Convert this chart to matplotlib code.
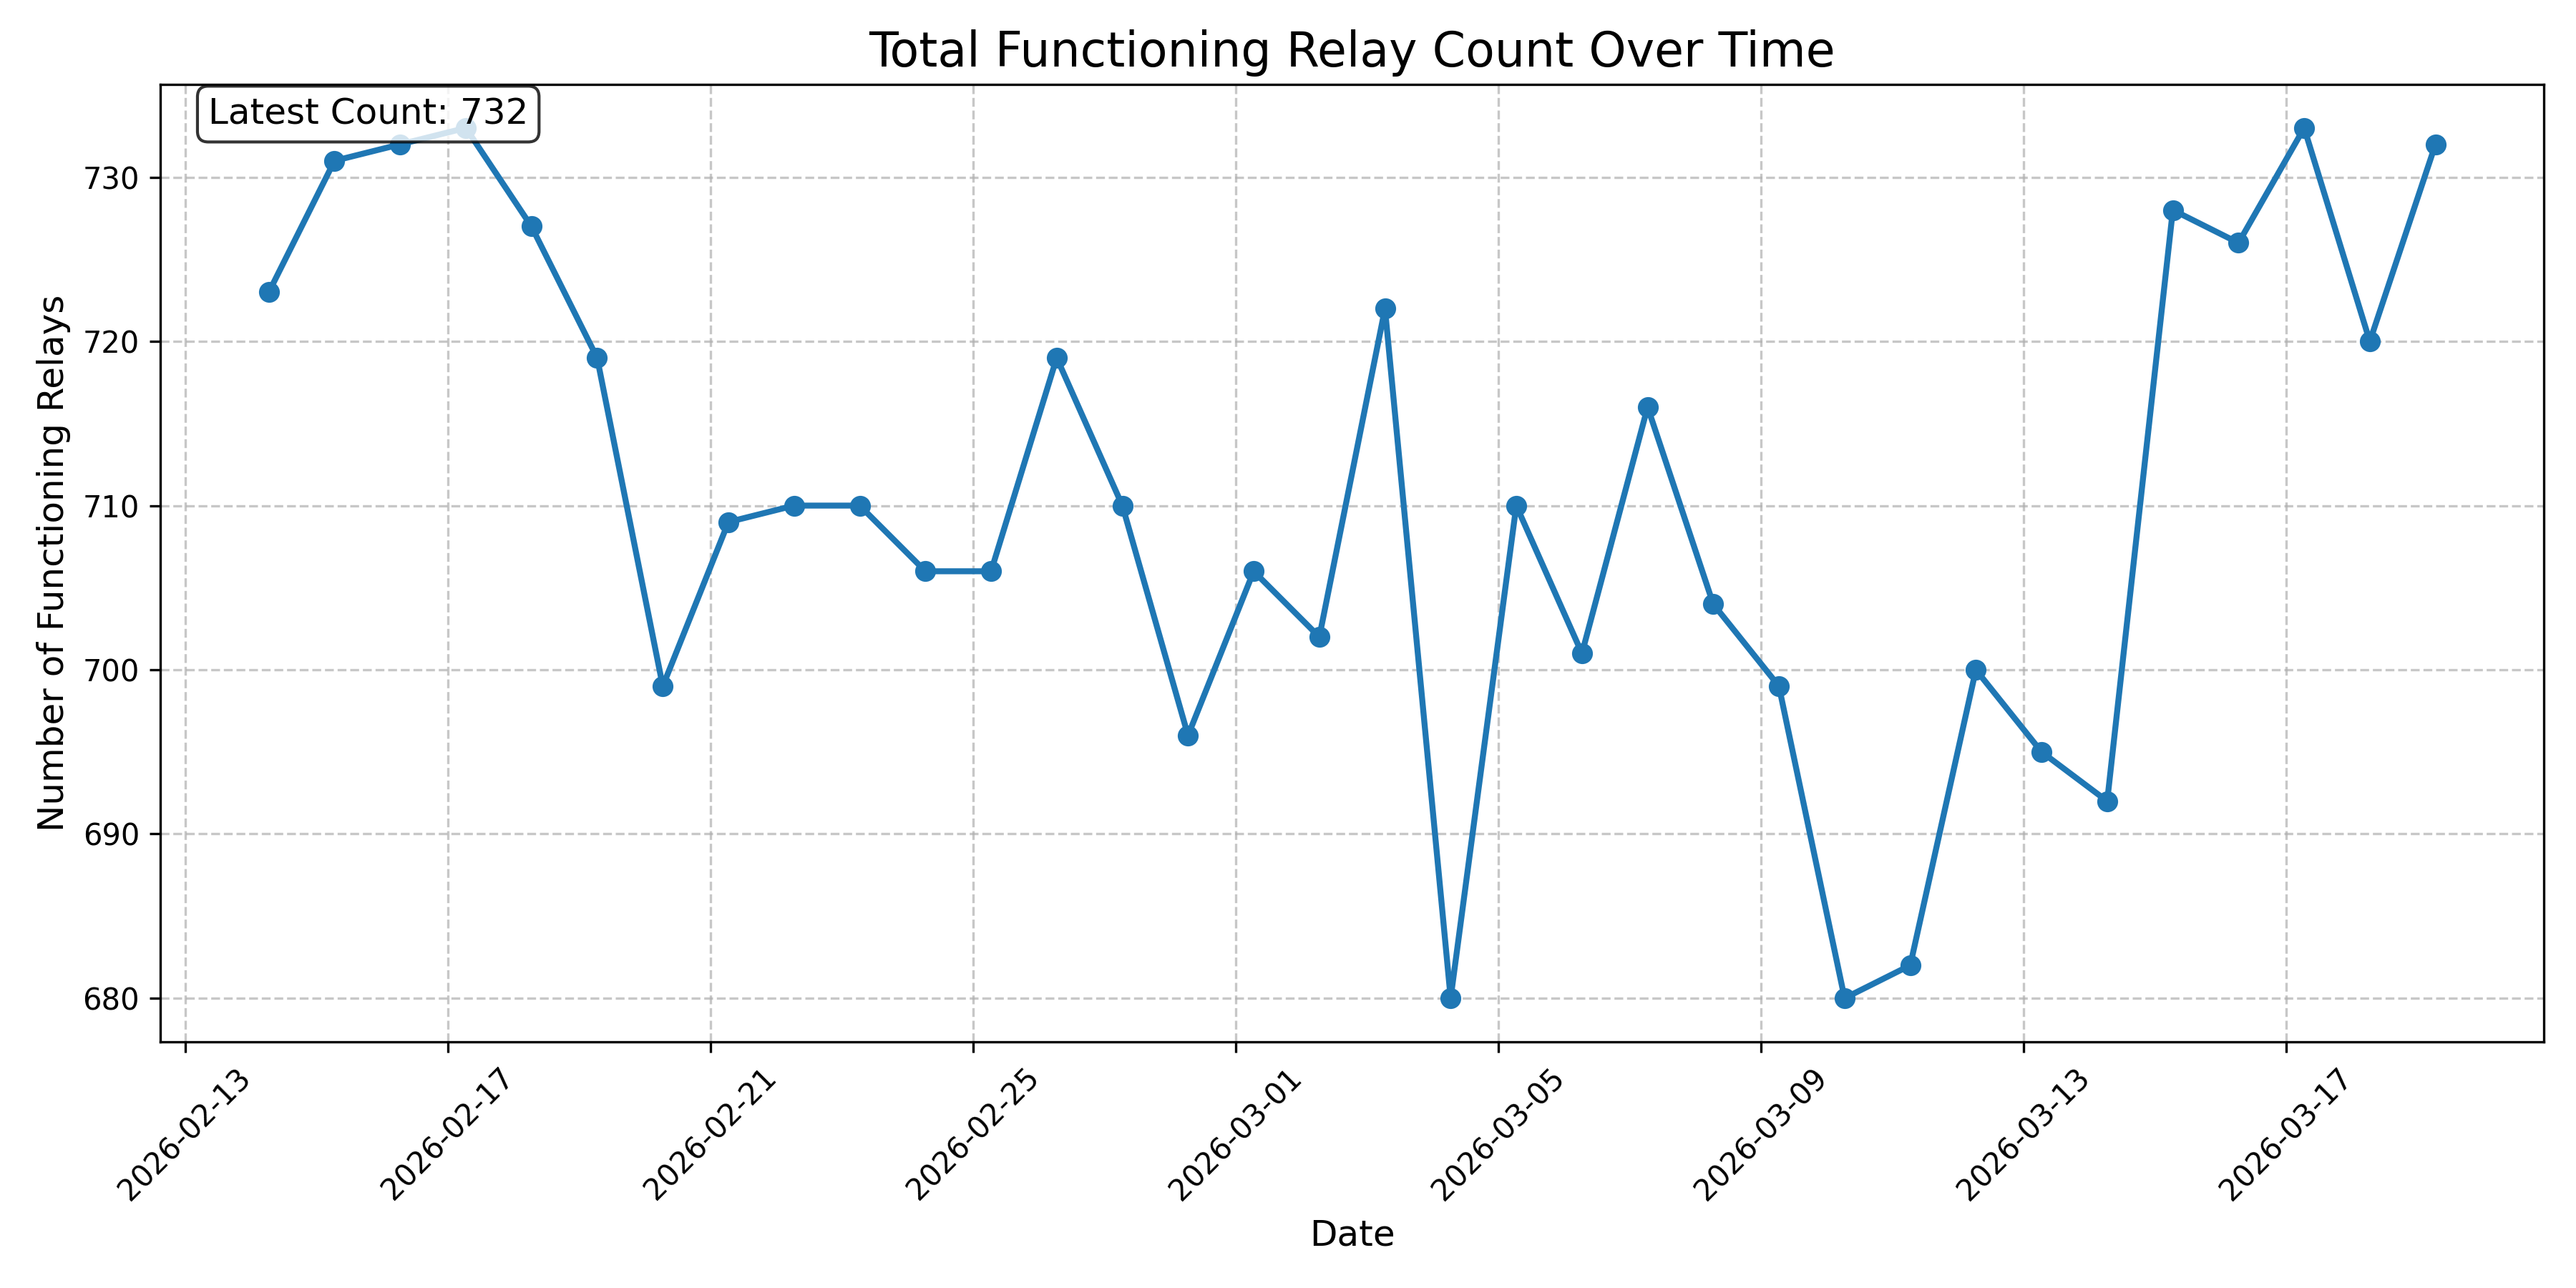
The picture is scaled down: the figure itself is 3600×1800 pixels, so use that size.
import matplotlib
matplotlib.use("Agg")
import matplotlib.pyplot as plt
import matplotlib.dates as mdates
import pandas as pd

# daily snapshots (timestamps)
dates = [
    "2026-02-14 06:30", "2026-02-15 06:30", "2026-02-16 06:30", "2026-02-17 06:30",
    "2026-02-18 06:30", "2026-02-19 06:30", "2026-02-20 06:30", "2026-02-21 06:30",
    "2026-02-22 06:30", "2026-02-23 06:30", "2026-02-24 06:30", "2026-02-25 06:30",
    "2026-02-26 06:30", "2026-02-27 06:30", "2026-02-28 06:30", "2026-03-01 06:30",
    "2026-03-02 06:30", "2026-03-03 06:30", "2026-03-04 06:30", "2026-03-05 06:30",
    "2026-03-06 06:30", "2026-03-07 06:30", "2026-03-08 06:30", "2026-03-09 06:30",
    "2026-03-10 06:30", "2026-03-11 06:30", "2026-03-12 06:30", "2026-03-13 06:30",
    "2026-03-14 06:30", "2026-03-15 06:30", "2026-03-16 06:30", "2026-03-17 06:30",
    "2026-03-18 06:30", "2026-03-19 06:30",
]
counts = [
    723, 731, 732, 733, 727, 719, 699, 709, 710, 710, 706, 706,
    719, 710, 696, 706, 702, 722, 680, 710, 701, 716, 704, 699,
    680, 682, 700, 695, 692, 728, 726, 733, 720, 732,
]

df = pd.DataFrame({"date": pd.to_datetime(dates), "count": counts})

fig, ax = plt.subplots(figsize=(12, 6))

ax.plot(df["date"], df["count"], marker="o", linestyle="-", linewidth=2,
        markersize=6, color="#1f77b4")

ax.set_title("Total Functioning Relay Count Over Time", fontsize=16)
ax.set_xlabel("Date", fontsize=12)
ax.set_ylabel("Number of Functioning Relays", fontsize=12)
ax.grid(True, linestyle="--", alpha=0.7)

ax.xaxis.set_major_locator(mdates.DayLocator(interval=4))
ax.xaxis.set_major_formatter(mdates.DateFormatter("%Y-%m-%d"))
plt.xticks(rotation=45)

# latest value box, top-left corner
latest = df["count"].iloc[-1]
ax.text(0.02, 0.987, f"Latest Count: {latest}", transform=ax.transAxes,
        fontsize=12, verticalalignment="top",
        bbox=dict(boxstyle="round", facecolor="white", alpha=0.8))

plt.tight_layout()
plt.savefig("out.png", dpi=300)
